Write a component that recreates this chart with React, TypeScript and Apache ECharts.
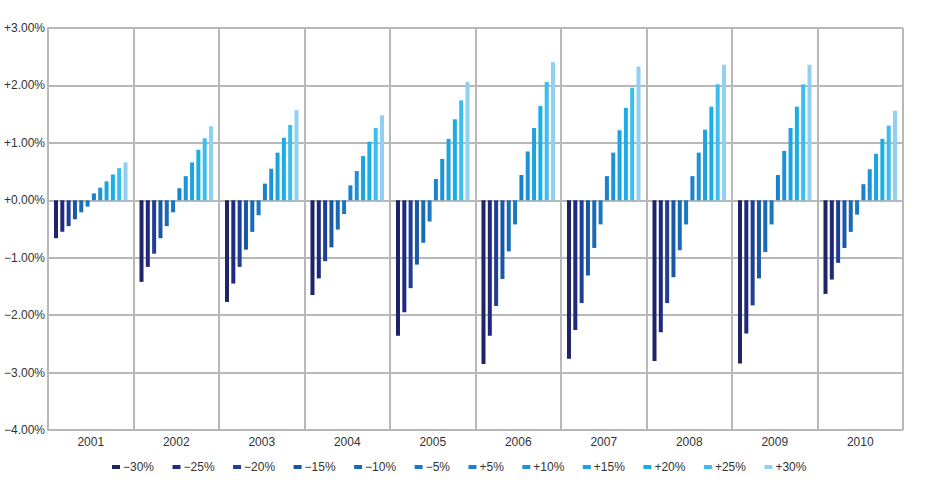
import React, { useEffect, useRef } from "react";
import * as echarts from "echarts";

const years = ["2001", "2002", "2003", "2004", "2005", "2006", "2007", "2008", "2009", "2010"];
const seriesNames = ["−30%", "−25%", "−20%", "−15%", "−10%", "−5%", "+5%", "+10%", "+15%", "+20%", "+25%", "+30%"];
const colors = ["#1e2466", "#20297f", "#1f3e97", "#1b58a4", "#1a6bb5", "#1a78c3", "#1a82cd", "#1c92d8", "#1ea3e1", "#18afe6", "#3bbdee", "#8fd0f3"];

// values per year, columns follow seriesNames
const v2001 = [-0.66, -0.55, -0.45, -0.33, -0.21, -0.11, 0.12, 0.22, 0.33, 0.45, 0.56, 0.66];
const v2002 = [-1.42, -1.16, -0.93, -0.66, -0.45, -0.21, 0.21, 0.42, 0.66, 0.88, 1.08, 1.29];
const v2003 = [-1.77, -1.45, -1.16, -0.86, -0.55, -0.26, 0.29, 0.55, 0.83, 1.09, 1.31, 1.57];
const v2004 = [-1.65, -1.36, -1.06, -0.82, -0.51, -0.24, 0.26, 0.51, 0.77, 1.02, 1.26, 1.48];
const v2005 = [-2.36, -1.95, -1.53, -1.12, -0.74, -0.37, 0.37, 0.72, 1.07, 1.41, 1.74, 2.06];
const v2006 = [-2.85, -2.36, -1.84, -1.37, -0.89, -0.42, 0.44, 0.85, 1.26, 1.64, 2.06, 2.41];
const v2007 = [-2.76, -2.26, -1.79, -1.31, -0.83, -0.42, 0.42, 0.83, 1.22, 1.61, 1.96, 2.33];
const v2008 = [-2.80, -2.30, -1.79, -1.34, -0.87, -0.42, 0.42, 0.83, 1.23, 1.63, 2.02, 2.36];
const v2009 = [-2.84, -2.32, -1.83, -1.36, -0.90, -0.42, 0.44, 0.86, 1.26, 1.63, 2.02, 2.36];
const v2010 = [-1.63, -1.38, -1.09, -0.83, -0.55, -0.25, 0.28, 0.54, 0.81, 1.07, 1.30, 1.56];

const byYear = [v2001, v2002, v2003, v2004, v2005, v2006, v2007, v2008, v2009, v2010];

export default function App() {
  const ref = useRef<HTMLDivElement>(null);
  useEffect(() => {
    if (!ref.current) return;
    const chart = echarts.init(ref.current, undefined, { renderer: "svg" });
    const font = "'Liberation Sans', Arial, sans-serif";
    const gridColor = "#b8b8b8";
    chart.setOption({
      animation: false,
      textStyle: { fontFamily: font },
      grid: { left: 48, right: 25, top: 28, bottom: 55, containLabel: false, outerBoundsMode: "none" },
      legend: {
        data: seriesNames,
        top: 461,
        left: 112,
        padding: 0,
        itemWidth: 8,
        itemHeight: 4,
        itemGap: 18.5,
        icon: "rect",
        textStyle: { fontSize: 12, color: "#333", fontFamily: font, padding: [0, 0, 0, -2] },
      },
      xAxis: {
        type: "category",
        data: years,
        boundaryGap: true,
        axisLine: { show: true, lineStyle: { color: gridColor, width: 2 } },
        axisTick: { show: false },
        axisLabel: { color: "#333", fontSize: 12, margin: 6, fontFamily: font },
        splitLine: { show: true, lineStyle: { color: gridColor, width: 2 } },
      },
      yAxis: {
        type: "value",
        min: -4,
        max: 3,
        interval: 1,
        axisLine: { show: true, lineStyle: { color: gridColor, width: 2 } },
        axisTick: { show: false },
        axisLabel: {
          color: "#333",
          fontSize: 12,
          margin: 3,
          fontFamily: font,
          formatter: (v: number) => (v >= 0 ? "+" + v.toFixed(2) + "%" : "−" + Math.abs(v).toFixed(2) + "%"),
        },
        splitLine: { show: true, lineStyle: { color: gridColor, width: 2 } },
      },
      series: seriesNames.map((name, i) => ({
        name,
        type: "bar",
        barWidth: 4,
        barGap: "58%",
        itemStyle: { color: colors[i] },
        data: byYear.map((row) => row[i]),
      })),
    });
    return () => chart.dispose();
  }, []);
  return <div ref={ref} style={{ position: "absolute", left: 0, top: 0, width: 928, height: 485 }} />;
}
